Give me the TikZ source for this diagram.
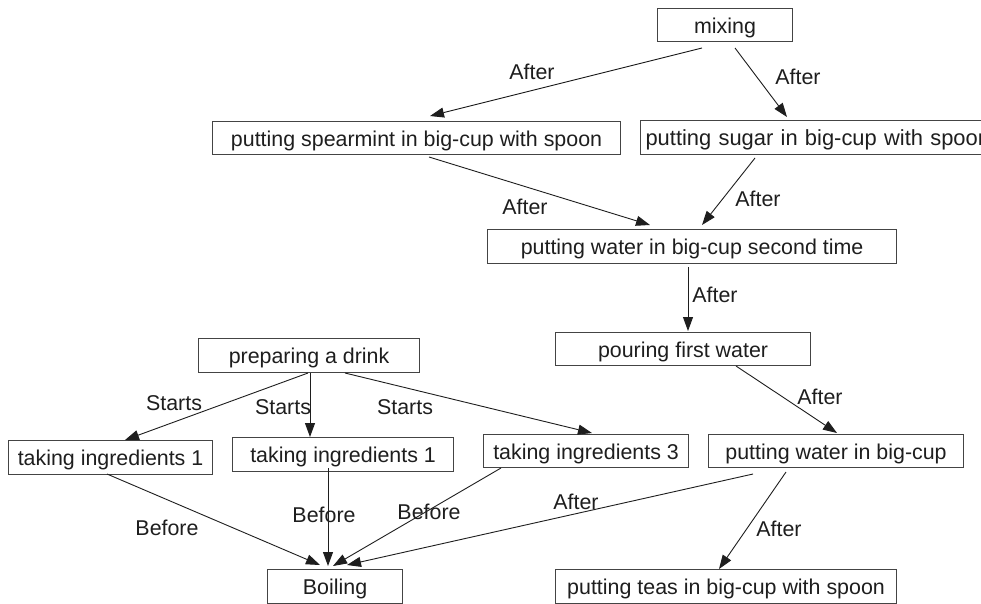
\documentclass[tikz,border=0pt]{standalone}
\usepackage{fontspec}
\setmainfont{Liberation Sans}
\usetikzlibrary{arrows.meta}
\definecolor{ink}{HTML}{1E1E1E}
\definecolor{boxline}{HTML}{444444}
\begin{document}
\begin{tikzpicture}[x=1pt,y=-1pt,
  font=\fontsize{21.4}{25}\selectfont, text=ink,
  box/.style={draw=boxline, line width=1.1pt, inner sep=0pt, text height=18pt, text depth=2pt, anchor=north west},
  lbl/.style={inner sep=0pt},
  conn/.style={draw=ink, line width=0.9pt, -{Triangle[length=14pt,width=10pt]}}]
\useasboundingbox (0,0) rectangle (981,603);
\clip (0,0) rectangle (981,603);
\fill[white] (0,0) rectangle (981,603);
% boxes
\node[box, minimum width=135pt, minimum height=33pt] (mix) at (657,8) {mixing};
\node[box, minimum width=408pt, minimum height=33pt] (spear) at (212,121) {putting spearmint in big-cup with spoon};
\node[box, minimum height=34pt, text width=390pt, align=left, inner xsep=5pt, font=\fontsize{21.9}{25}\selectfont] (sugar) at (640,120) {putting sugar in big-cup with spoon};
\node[box, minimum width=409pt, minimum height=34pt] (w2) at (487,229) {putting water in big-cup second time};
\node[box, minimum width=255pt, minimum height=33pt] (pour) at (555,332) {pouring first water};
\node[box, minimum width=255pt, minimum height=33pt] (pw) at (708,434) {putting water in big-cup};
\node[box, minimum width=205pt, minimum height=33pt] (ti3) at (483,434) {taking ingredients 3};
\node[box, minimum width=341pt, minimum height=34pt] (teas) at (555,569) {putting teas in big-cup with spoon};
\node[box, minimum width=221pt, minimum height=34pt] (prep) at (198,338) {preparing a drink};
\node[box, minimum width=204pt, minimum height=34pt] (tia) at (8,440) {taking ingredients 1};
\node[box, minimum width=221pt, minimum height=34pt] (tib) at (232,437) {taking ingredients 1};
\node[box, minimum width=135pt, minimum height=34pt] (boil) at (267,569) {Boiling};
% connectors
\draw[conn] ([shift={(45,40)}]mix.north west) -- ([shift={(218,-5)}]spear.north west);
\draw[conn] ([shift={(78,40)}]mix.north west) -- ([shift={(147,-3)}]sugar.north west);
\draw[conn] ([shift={(217,36)}]spear.north west) -- ([shift={(163,-4)}]w2.north west);
\draw[conn] ([shift={(115,38)}]sugar.north west) -- ([shift={(215,-4)}]w2.north west);
\draw[conn] ([shift={(201,38)}]w2.north west) -- ([shift={(133,-1)}]pour.north west);
\draw[conn] ([shift={(181,34)}]pour.north west) -- ([shift={(129,-1)}]pw.north west);
\draw[conn] ([shift={(110,35)}]prep.north west) -- ([shift={(117,0)}]tia.north west);
\draw[conn] ([shift={(112,35)}]prep.north west) -- ([shift={(78,0)}]tib.north west);
\draw[conn] ([shift={(147,35)}]prep.north west) -- ([shift={(109,-1)}]ti3.north west);
\draw[conn] ([shift={(99,34)}]tia.north west) -- ([shift={(53,-4)}]boil.north west);
\draw[conn] ([shift={(96,31)}]tib.north west) -- ([shift={(61,-3)}]boil.north west);
\draw[conn] ([shift={(18,34)}]ti3.north west) -- ([shift={(66,-3)}]boil.north west);
\draw[conn] ([shift={(45,40)}]pw.north west) -- ([shift={(80,-4)}]boil.north west);
\draw[conn] ([shift={(78,38)}]pw.north west) -- ([shift={(164,0)}]teas.north west);
% labels
\node[lbl] (l1) at (532,72) {After};
\node[lbl] (l2) at (798,77) {After};
\node[lbl] (l3) at (525,207) {After};
\node[lbl] (l4) at (758,199) {After};
\node[lbl] (l5) at (715,295) {After};
\node[lbl] (l6) at (820,397) {After};
\node[lbl] (l7) at (174,403) {Starts};
\node[lbl] (l8) at (283,407) {Starts};
\node[lbl] (l9) at (405,407) {Starts};
\node[lbl] (l10) at (167,528) {Before};
\node[lbl] (l11) at (324,515) {Before};
\node[lbl] (l12) at (429,512) {Before};
\node[lbl] (l13) at (576,502) {After};
\node[lbl] (l14) at (779,529) {After};
\end{tikzpicture}
\end{document}
